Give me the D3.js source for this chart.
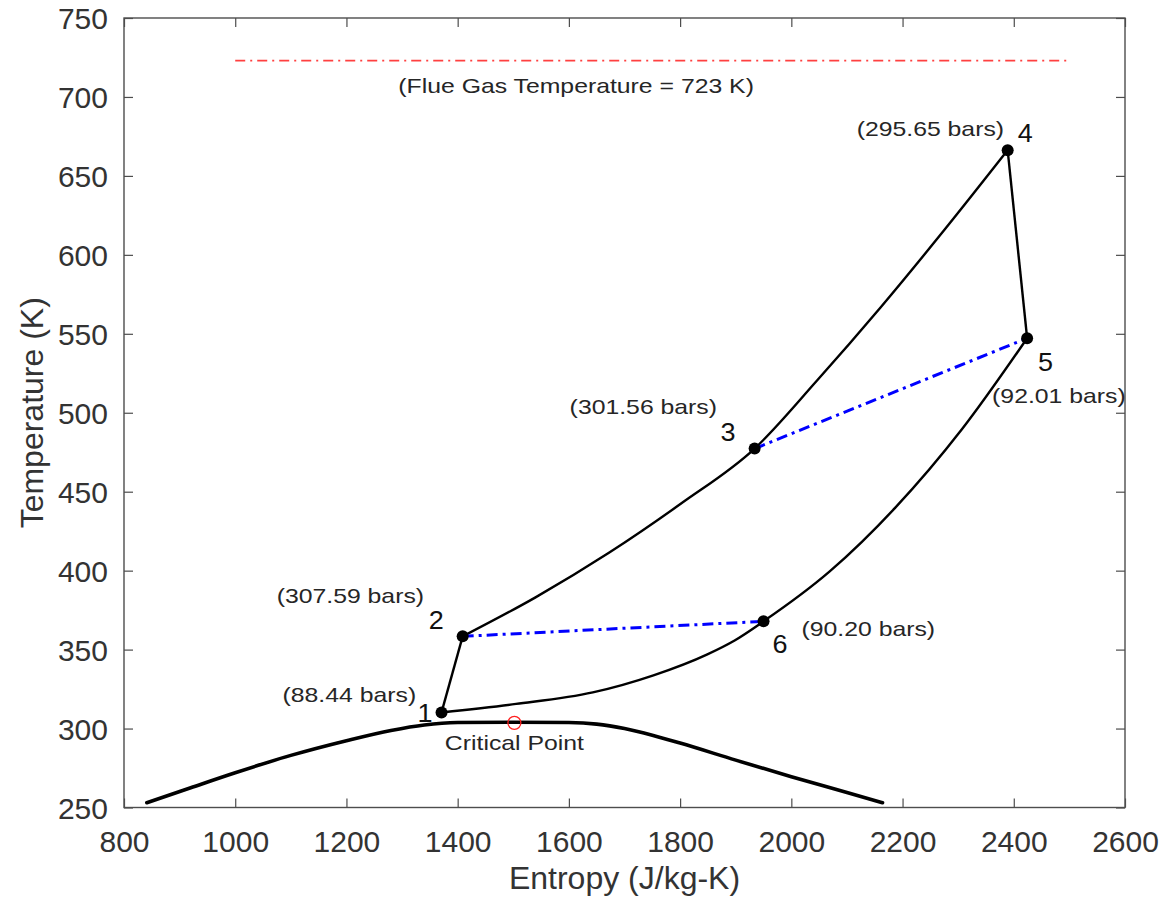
<!DOCTYPE html>
<html>
<head>
<meta charset="utf-8">
<script src="https://cdn.jsdelivr.net/npm/d3@7"></script>
<style>
  body { margin: 0; background: #fff; }
  svg { display: block; font-family: "Liberation Sans", Arial, sans-serif; }
</style>
</head>
<body>
<svg id="chart" width="1163" height="910"></svg>
<script>
// data (entropy J/kg-K, temperature K)
const domeS = [841, 920, 1000, 1100, 1200, 1280, 1340, 1400, 1500, 1600, 1650, 1700, 1750, 1800, 1900, 2000, 2100, 2164];
const domeT = [253, 262.5, 272, 283, 292.3, 298.8, 302.3, 303.8, 304, 303.8, 302.8, 300, 295.8, 290.8, 280, 269.5, 259.5, 253];

const statePts = [
    {id: '1', s: 1371, T: 310.2, bars: '(88.44 bars)'},
    {id: '2', s: 1409, T: 358.4, bars: '(307.59 bars)'},
    {id: '3', s: 1934, T: 477.3, bars: '(301.56 bars)'},
    {id: '4', s: 2389, T: 666.3, bars: '(295.65 bars)'},
    {id: '5', s: 2424, T: 547.2, bars: '(92.01 bars)'},
    {id: '6', s: 1950, T: 367.9, bars: '(90.20 bars)'}
];

// heating 2 -> 3 -> 4 (high pressure side)
const heatS = [1409, 1540, 1672, 1803, 1934, 2047, 2160, 2275, 2389];
const heatT = [358.4, 383.1, 411.3, 442.8, 477.3, 520.7, 566.5, 615.7, 666.3];
// cooling 5 -> 6 -> 1 (low pressure side), listed from 1 upward
const coolS = [1371, 1505, 1643, 1752, 1849, 1898, 1950, 2069, 2187, 2306, 2424];
const coolT = [310.2, 315.6, 322.9, 333.7, 347.0, 355.8, 367.9, 399.5, 439.9, 489.2, 547.2];
// recuperator pairs
const recupPairs = [['2', '6'], ['3', '5']];
// compressor / turbine straight segments
const straightPairs = [['1', '2'], ['4', '5']];

const criticalPoint = {s: 1502, T: 303.6, label: 'Critical Point'};
const flueGas = {T: 723, s0: 1000, s1: 2500, labelS: 1613, label: '(Flue Gas Temperature = 723 K)'};

const xTicks = [800, 1000, 1200, 1400, 1600, 1800, 2000, 2200, 2400, 2600];
const yTicks = [250, 300, 350, 400, 450, 500, 550, 600, 650, 700, 750];

// layout: label offsets in px from the point
const numOff = {'1': [-24, 10], '2': [-34, -7], '3': [-34, -8], '4': [10, -8], '5': [11, 33], '6': [9, 32]};
const barOff = {'1': [-159, -10], '2': [-186, -33], '3': [-185, -35], '4': [-151, -14], '5': [-35, 65], '6': [38, 15]};

const svg = d3.select('#chart');
const x = d3.scaleLinear().domain([800, 2600]).range([124, 1125]);
const y = d3.scaleLinear().domain([250, 750]).range([807.5, 18]);
const ink = '#262626';
const stretch = 1.18;

function widen(sel, k) {
    sel.each(function () {
        const len = this.getComputedTextLength();
        d3.select(this).attr('textLength', len * k).attr('lengthAdjust', 'spacingAndGlyphs');
    });
}

// axes
const gx = svg.append('g').attr('transform', `translate(0,${y(250)})`)
    .call(d3.axisBottom(x).tickValues(xTicks).tickSize(-9).tickSizeOuter(0).tickPadding(23).tickFormat(d3.format('d')));
const gy = svg.append('g').attr('transform', `translate(${x(800)},0)`)
    .call(d3.axisLeft(y).tickValues(yTicks).tickSize(-9).tickSizeOuter(0).tickPadding(16).tickFormat(d3.format('d')));
svg.append('g').attr('transform', `translate(0,${y(750)})`)
    .call(d3.axisTop(x).tickValues(xTicks).tickSize(-9).tickSizeOuter(0).tickFormat(''));
svg.append('g').attr('transform', `translate(${x(2600)},0)`)
    .call(d3.axisRight(y).tickValues(yTicks).tickSize(-9).tickSizeOuter(0).tickFormat(''));
svg.selectAll('.domain').remove();
svg.selectAll('.tick line').attr('stroke', '#4d4d4d').attr('stroke-width', 1.2);
[gx, gy].forEach(g => g.selectAll('text')
    .attr('font-size', 30).attr('fill', '#333').style('font-family', '"Liberation Sans", Arial, sans-serif'));
gy.selectAll('text').attr('dy', '0.36em');

svg.append('rect')
    .attr('x', x(800)).attr('y', y(750))
    .attr('width', x(2600) - x(800)).attr('height', y(250) - y(750))
    .attr('fill', 'none').attr('stroke', '#4d4d4d').attr('stroke-width', 1.4);

svg.append('text').attr('x', (x(800) + x(2600)) / 2).attr('y', 889)
    .attr('text-anchor', 'middle').attr('font-size', 32).attr('fill', '#333')
    .text('Entropy (J/kg-K)');
svg.append('text')
    .attr('transform', `translate(43,${(y(250) + y(750)) / 2}) rotate(-90)`)
    .attr('text-anchor', 'middle').attr('font-size', 32).attr('fill', '#333')
    .text('Temperature (K)');

// flue gas line
svg.append('line')
    .attr('x1', x(flueGas.s0)).attr('x2', x(flueGas.s1))
    .attr('y1', y(flueGas.T)).attr('y2', y(flueGas.T))
    .attr('stroke', '#ff4040').attr('stroke-width', 1.6)
    .attr('stroke-dasharray', '10,5,2,5');
svg.append('text')
    .attr('x', x(flueGas.labelS)).attr('y', y(flueGas.T) + 32)
    .attr('text-anchor', 'middle').attr('font-size', 21).attr('fill', ink)
    .text(flueGas.label).call(widen, stretch);

const line = d3.line().x(d => x(d[0])).y(d => y(d[1])).curve(d3.curveMonotoneX);
const zip = (a, b) => a.map((v, i) => [v, b[i]]);

// saturation dome
svg.append('path').attr('d', line(zip(domeS, domeT)))
    .attr('fill', 'none').attr('stroke', '#000').attr('stroke-width', 3.6).attr('stroke-linecap', 'round');

// cycle curves
[zip(heatS, heatT), zip(coolS, coolT)].forEach(pts => {
    svg.append('path').attr('d', line(pts))
        .attr('fill', 'none').attr('stroke', '#000').attr('stroke-width', 2.4);
});
const byId = Object.fromEntries(statePts.map(p => [p.id, p]));
svg.selectAll('line.straight').data(straightPairs).join('line').attr('class', 'straight')
    .attr('x1', d => x(byId[d[0]].s)).attr('y1', d => y(byId[d[0]].T))
    .attr('x2', d => x(byId[d[1]].s)).attr('y2', d => y(byId[d[1]].T))
    .attr('stroke', '#000').attr('stroke-width', 2.4);
svg.selectAll('line.recup').data(recupPairs).join('line').attr('class', 'recup')
    .attr('x1', d => x(byId[d[0]].s)).attr('y1', d => y(byId[d[0]].T))
    .attr('x2', d => x(byId[d[1]].s)).attr('y2', d => y(byId[d[1]].T))
    .attr('stroke', '#0000ff').attr('stroke-width', 3)
    .attr('stroke-dasharray', '11,5,3,5');

// critical point
svg.append('circle').attr('cx', x(criticalPoint.s)).attr('cy', y(criticalPoint.T)).attr('r', 6.5)
    .attr('fill', 'none').attr('stroke', '#ff2020').attr('stroke-width', 1.3);
svg.append('text').attr('x', x(criticalPoint.s)).attr('y', y(criticalPoint.T) + 27)
    .attr('text-anchor', 'middle').attr('font-size', 21).attr('fill', ink)
    .text(criticalPoint.label).call(widen, stretch);

// state points
svg.selectAll('circle.state').data(statePts).join('circle').attr('class', 'state')
    .attr('cx', d => x(d.s)).attr('cy', d => y(d.T)).attr('r', 6).attr('fill', '#000');
svg.selectAll('text.num').data(statePts).join('text').attr('class', 'num')
    .attr('x', d => x(d.s) + numOff[d.id][0]).attr('y', d => y(d.T) + numOff[d.id][1])
    .attr('font-size', 25).attr('fill', '#111')
    .text(d => d.id).call(widen, 1.08);
svg.selectAll('text.bars').data(statePts).join('text').attr('class', 'bars')
    .attr('x', d => x(d.s) + barOff[d.id][0]).attr('y', d => y(d.T) + barOff[d.id][1])
    .attr('font-size', 21).attr('fill', ink)
    .text(d => d.bars).call(widen, stretch);
</script>
</body>
</html>
